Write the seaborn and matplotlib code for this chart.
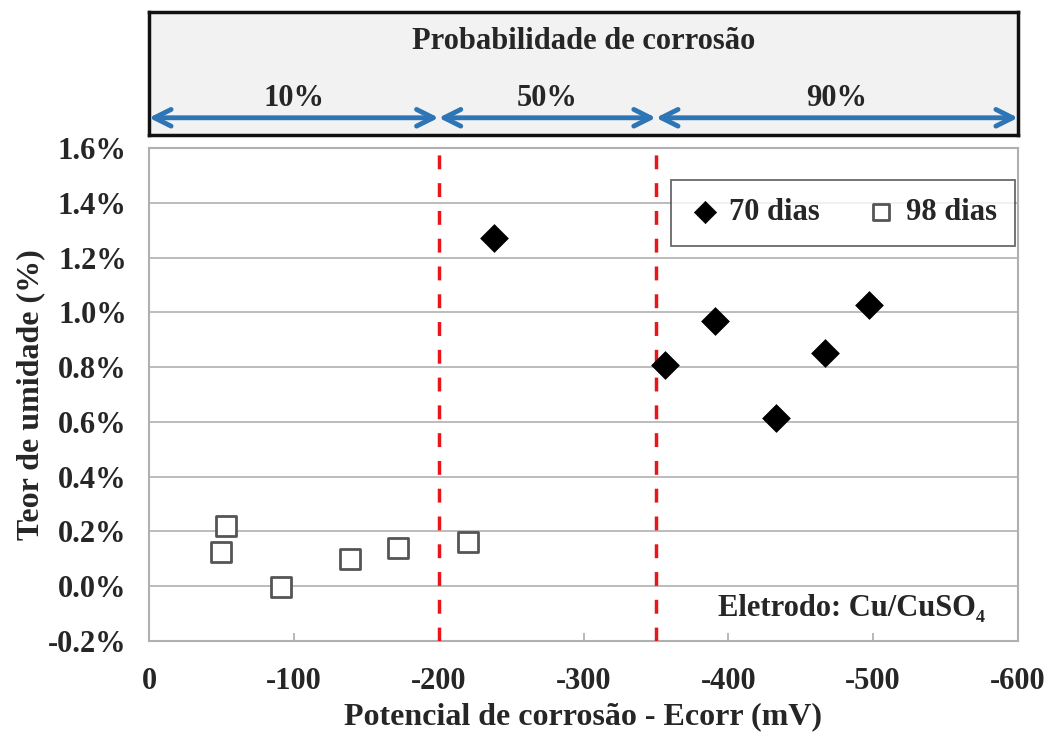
import matplotlib
matplotlib.use("Agg")
import matplotlib.pyplot as plt
import seaborn as sns
import pandas as pd
from matplotlib.ticker import FuncFormatter, FixedLocator

# ---- data ----
ecorr_70 = [-238, -356, -391, -433, -467, -497]
umid_70 = [1.27, 0.807, 0.97, 0.613, 0.85, 1.025]
ecorr_98 = [-53, -50, -91, -139, -172, -220]
umid_98 = [0.219, 0.124, -0.004, 0.099, 0.139, 0.16]
series_labels = ["70 dias", "98 dias"]
zone_bounds = [0, -200, -350, -600]
zone_labels = ["10%", "50%", "90%"]
x_ticks = [0, -100, -200, -300, -400, -500, -600]
y_ticks = [-0.2, 0.0, 0.2, 0.4, 0.6, 0.8, 1.0, 1.2, 1.4, 1.6]

df70 = pd.DataFrame({"ecorr": ecorr_70, "umid": umid_70})
df98 = pd.DataFrame({"ecorr": ecorr_98, "umid": umid_98})

sns.set_theme(style="white")
plt.rcParams["font.family"] = ["Liberation Serif", "DejaVu Serif"]
plt.rcParams["font.weight"] = "bold"

FS = 22

fig = plt.figure(figsize=(10.53, 7.36), dpi=100)
ax = fig.add_axes([149/1053, 1-641/736, (1018-149)/1053, (641-148)/736])
axt = fig.add_axes([149/1053, 1-135/736, (1018-149)/1053, (135-12)/736])

# main scatter
sns.scatterplot(data=df70, x="ecorr", y="umid", ax=ax, marker="D", s=200,
                color="black", edgecolor="black", linewidth=0.5, label=series_labels[0], zorder=5)
sns.scatterplot(data=df98, x="ecorr", y="umid", ax=ax, marker="s", s=210,
                facecolor="white", edgecolor="#555555", linewidth=2.0, label=series_labels[1], zorder=5)

for xb in zone_bounds[1:3]:
    ax.axvline(xb, color="#e8161b", linestyle=(0, (4, 4)), linewidth=2.5, zorder=3)

ax.set_xlim(0, -600)
ax.set_ylim(-0.2, 1.6)
ax.xaxis.set_major_locator(FixedLocator(x_ticks))
ax.yaxis.set_major_locator(FixedLocator(y_ticks))
ax.yaxis.set_major_formatter(FuncFormatter(lambda v, p: f"{v:.1f}%"))
ax.xaxis.set_major_formatter(FuncFormatter(lambda v, p: f"{int(round(v))}"))
ax.grid(axis="y", color="#b0b0b0", linewidth=1.2)
ax.grid(axis="x", visible=False)
for sp in ax.spines.values():
    sp.set_color("#b0b0b0")
    sp.set_linewidth(1.5)
ax.tick_params(axis="x", direction="in", length=6, color="#b0b0b0", bottom=True,
               labelsize=FS, pad=19)
ax.tick_params(axis="y", length=0, labelsize=FS, pad=16)
for lab in ax.get_xticklabels() + ax.get_yticklabels():
    lab.set_fontweight("bold")
ax.set_xlabel("Potencial de corrosão - Ecorr (mV)", fontsize=23, fontweight="bold", labelpad=4)
ax.set_ylabel("Teor de umidade (%)", fontsize=23, fontweight="bold", labelpad=2)

leg = ax.legend(loc="upper right", bbox_to_anchor=(0.9965, 0.935), ncol=2, frameon=True,
                fancybox=False, edgecolor="#444444", handletextpad=0.3,
                handlelength=1.0, columnspacing=1.5, borderpad=0.6, markerscale=0.8,
                borderaxespad=0, prop={"weight": "bold", "size": FS})
leg.get_frame().set_linewidth(1.3)

ax.text(-577, -0.08, "Eletrodo: Cu/CuSO₄", ha="right", va="center", fontsize=FS,
        fontweight="bold")

# top panel
axt.set_xlim(0, -600)
axt.set_ylim(0, 1)
axt.set_facecolor("#f2f2f2")
axt.set_xticks([])
axt.set_yticks([])
for sp in axt.spines.values():
    sp.set_color("#111111")
    sp.set_linewidth(2.5)
axt.text(-300, 0.76, "Probabilidade de corrosão", ha="center", va="center",
         fontsize=FS, fontweight="bold")
for i, lab in enumerate(zone_labels):
    x0, x1 = zone_bounds[i], zone_bounds[i+1]
    axt.annotate("", xy=(x1, 0.14), xytext=(x0, 0.14),
                 arrowprops=dict(arrowstyle="<->", color="#2e75b6", lw=3.5,
                                 mutation_scale=30, shrinkA=0, shrinkB=0))
    axt.text((x0 + x1) / 2, 0.30, lab, ha="center", va="center", fontsize=FS,
             fontweight="bold")

fig.savefig("out.png", dpi=100)
